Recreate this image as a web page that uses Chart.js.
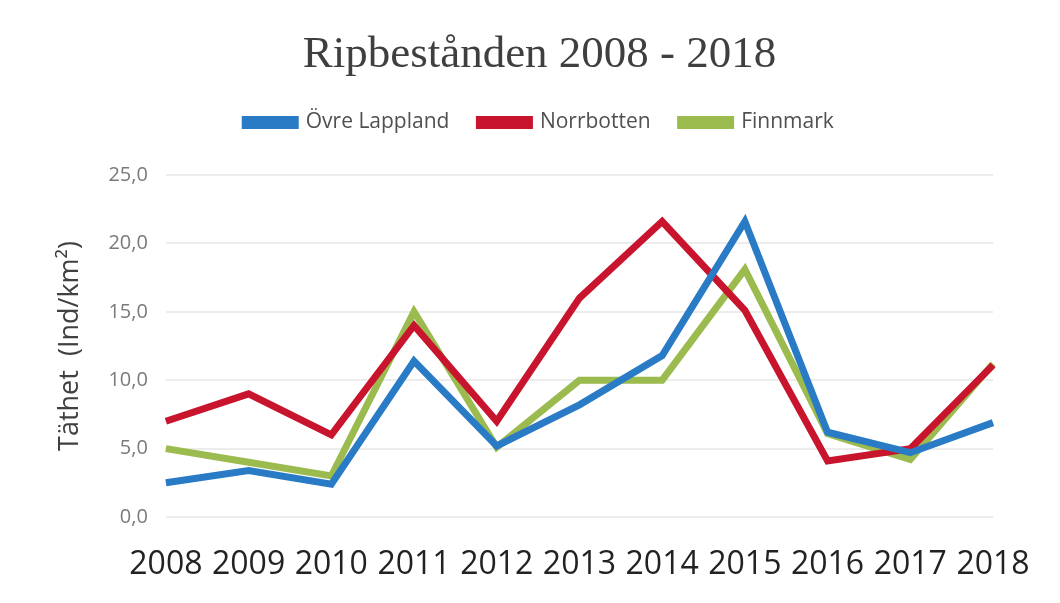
<!DOCTYPE html>
<html>
<head>
<meta charset="utf-8">
<script src="https://cdn.jsdelivr.net/npm/chart.js@4/dist/chart.umd.min.js"></script>
<style>
  html, body { margin: 0; padding: 0; background: #fff; }
  #wrap { width: 1060px; height: 603px; }
</style>
</head>
<body>
<div id="wrap"><canvas id="chart" width="1060" height="603"></canvas></div>
<script>
"use strict";

// years along the x axis
const years = ["2008", "2009", "2010", "2011", "2012", "2013", "2014", "2015", "2016", "2017", "2018"];

// density per km2
const ovreLappland = [2.5, 3.4, 2.4, 11.4, 5.2, 8.2, 11.8, 21.6, 6.2, 4.7, 6.9];
const norrbotten = [7.0, 9.0, 6.0, 14.0, 7.0, 16.0, 21.6, 15.1, 4.1, 5.0, 11.1];
const finnmark = [5.0, 4.0, 3.0, 15.0, 5.1, 10.0, 10.0, 18.1, 6.1, 4.2, 11.2];

const seriesNames = ["Övre Lappland", "Norrbotten", "Finnmark"];
const seriesColors = ["#2a7bc6", "#c8142c", "#9bbb4e"];

function makeDataset(i, values) {
  return {
    label: seriesNames[i],
    data: values,
    borderColor: seriesColors[i],
    backgroundColor: seriesColors[i],
    borderWidth: 7,
    pointRadius: 0,
    tension: 0,
  };
}

const data = {
  labels: years,
  datasets: [
    makeDataset(0, ovreLappland),
    makeDataset(1, norrbotten),
    makeDataset(2, finnmark),
  ],
};

// push the plot further down below the legend
const legendGap = {
  id: "legendGap",
  beforeInit(chart) {
    const fit = chart.legend.fit;
    chart.legend.fit = function () {
      fit.bind(chart.legend)();
      this.height += 32;
    };
  },
};

// title and legend sit a bit right of the middle in the original
const headerShift = {
  id: "headerShift",
  afterLayout(chart) {
    const d = 18;
    chart.titleBlock.left += d;
    chart.titleBlock.right += d;
    chart.legend.left += d;
    chart.legend.right += d;
  },
};

const config = {
  type: "line",
  data: data,
  plugins: [legendGap, headerShift],
  options: {
    responsive: false,
    animation: false,
    layout: { padding: { left: 50, right: 67, top: 20, bottom: 0 } },
    plugins: {
      title: {
        display: true,
        text: "Ripbestånden 2008 - 2018",
        color: "#3f3f3f",
        font: { family: "Liberation Serif", size: 45, weight: "normal" },
        padding: { top: 8, bottom: 0 },
      },
      legend: {
        display: true,
        labels: {
          boxWidth: 50,
          boxHeight: 6,
          color: "#505050",
          font: { family: "Open Sans", size: 21 },
          padding: 30,
        },
      },
      tooltip: { enabled: false },
    },
    scales: {
      x: {
        offset: false,
        grid: { display: false, drawTicks: false },
        border: { display: false },
        ticks: {
          color: "#222",
          font: { family: "Open Sans", size: 32 },
          maxRotation: 0,
          padding: 29,
        },
        afterFit(scale) {
          scale.height = 86;
        },
      },
      y: {
        min: 0,
        max: 25,
        grid: { color: "#ececec", lineWidth: 2, drawTicks: false },
        border: { display: false },
        ticks: {
          stepSize: 5,
          color: "#7a7a7a",
          font: { family: "Open Sans", size: 20 },
          padding: 18,
          callback: (v) => v.toFixed(1).replace(".", ","),
        },
        title: {
          display: true,
          text: "Täthet  (Ind/km²)",
          color: "#404040",
          font: { family: "Open Sans", size: 27 },
          padding: 4,
        },
      },
    },
  },
};

const ctx = document.getElementById("chart");
const myChart = new Chart(ctx, config);
</script>
</body>
</html>
